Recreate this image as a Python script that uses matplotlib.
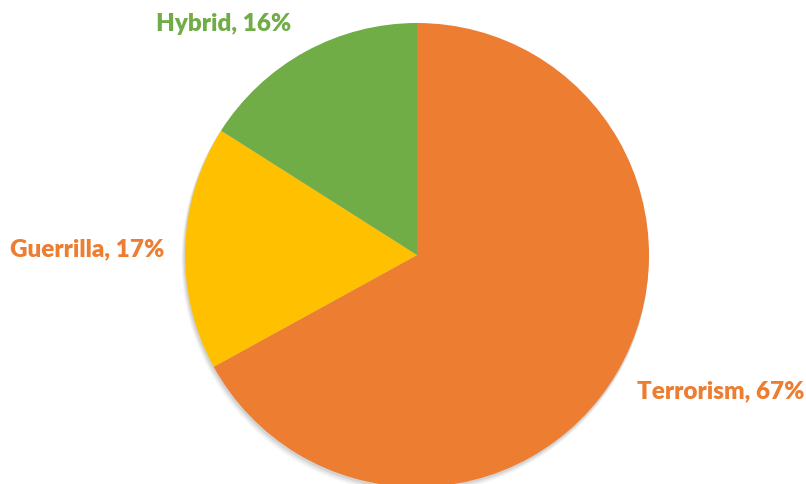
import matplotlib.pyplot as plt
from matplotlib.patches import Circle

# data
labels = ["Terrorism", "Guerrilla", "Hybrid"]
shares = [67, 17, 16]
colors = ["#ED7D31", "#FFC000", "#70AD47"]
label_colors = ["#ED7D31", "#ED7D31", "#70AD47"]
# label anchor points (pixel coords, y from top)
label_pos = [(721, 391), (87, 249), (224, 24)]

W, H = 806, 484
cx, cy, r = 417, 255, 232

fig = plt.figure(figsize=(W / 100, H / 100), dpi=100)
ax = fig.add_axes([0, 0, 1, 1])
ax.set_xlim(0, W)
ax.set_ylim(0, H)
ax.set_aspect("equal")
ax.axis("off")

# soft shadow behind the pie
for k, a in [(5, 0.04), (3.5, 0.06), (2, 0.08)]:
    ax.add_patch(Circle((cx - k * 0.4, H - cy - k), r + k * 0.3,
                        color="black", alpha=a, lw=0, zorder=0))

ax.pie(shares, colors=colors, startangle=90, counterclock=False,
       center=(cx, H - cy), radius=r, frame=True,
       wedgeprops=dict(linewidth=0, zorder=1))
ax.set_xlim(0, W)
ax.set_ylim(0, H)
ax.axis("off")

for lab, val, col, (x, y) in zip(labels, shares, label_colors, label_pos):
    ax.text(x, H - y, f"{lab}, {val}%", color=col, fontsize=17.5,
            fontweight="heavy", family="Lato", ha="center", va="center")

fig.savefig("out.png", dpi=100)
